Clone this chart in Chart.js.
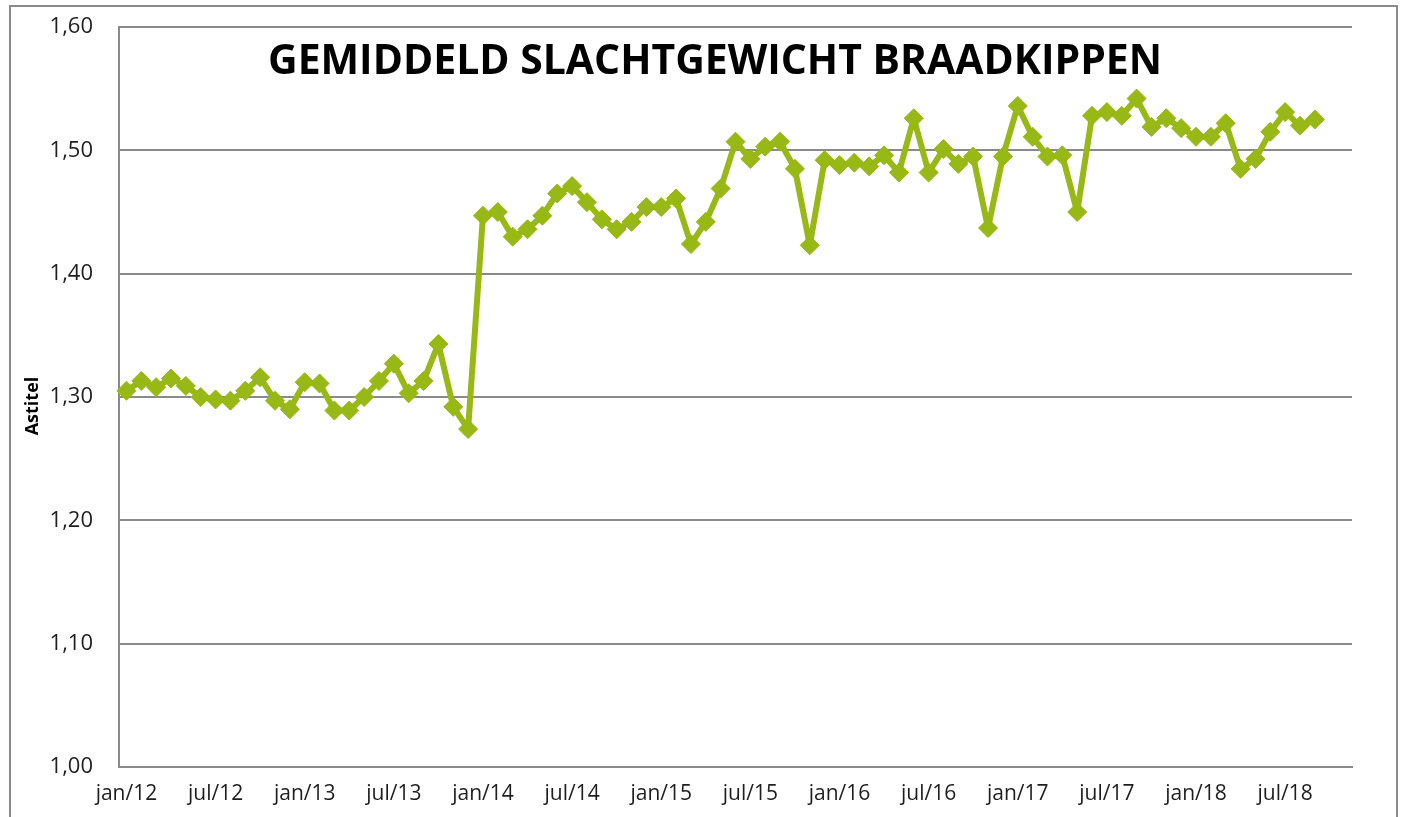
<!DOCTYPE html>
<html>
<head>
<meta charset="utf-8">
<script src="https://cdn.jsdelivr.net/npm/chart.js@4.4.1/dist/chart.umd.min.js"></script>
<style>
  html, body { margin: 0; padding: 0; background: #ffffff; }
  #wrap { width: 1406px; height: 817px; position: relative; }
</style>
</head>
<body>
<div id="wrap"><canvas id="grafiek" width="1406" height="817"></canvas></div>
<script>
// --- Gegevens ---
const TITEL = 'GEMIDDELD SLACHTGEWICHT BRAADKIPPEN';
const AS_TITEL = 'Astitel';
const maanden = ['jan', 'feb', 'mrt', 'apr', 'mei', 'jun', 'jul', 'aug', 'sep', 'okt', 'nov', 'dec'];
const jaren = ['12', '13', '14', '15', '16', '17', '18'];
const aantalCategorieen = 83; // jan/12 t/m nov/18 (as loopt iets door na laatste punt)

// gemiddeld slachtgewicht (kg) per maand, jan/12 t/m sep/18
const gewicht = [
  1.305, 1.313, 1.308, 1.315, 1.309, 1.300, 1.298, 1.297, 1.305, 1.316, 1.297, 1.290,  // 2012
  1.312, 1.311, 1.289, 1.289, 1.300, 1.313, 1.327, 1.303, 1.313, 1.343, 1.292, 1.274,  // 2013
  1.447, 1.450, 1.430, 1.436, 1.447, 1.465, 1.471, 1.458, 1.444, 1.436, 1.442, 1.454,  // 2014
  1.454, 1.461, 1.424, 1.442, 1.469, 1.507, 1.493, 1.503, 1.507, 1.485, 1.423, 1.492,  // 2015
  1.488, 1.490, 1.487, 1.496, 1.482, 1.526, 1.482, 1.501, 1.489, 1.495, 1.437, 1.495,  // 2016
  1.536, 1.511, 1.495, 1.496, 1.450, 1.528, 1.531, 1.528, 1.542, 1.519, 1.526, 1.518,  // 2017
  1.511, 1.511, 1.522, 1.485, 1.493, 1.515, 1.531, 1.520, 1.525                        // 2018
];

const yMin = 1.0;
const yMax = 1.6;
const yStap = 0.1;

// categorie-labels opbouwen uit maanden/jaren
const labels = [];
for (const j of jaren) {
  for (const m of maanden) {
    if (labels.length < aantalCategorieen) labels.push(m + '/' + j);
  }
}

const GROEN = '#97b815';
const GRIJS = '#8a8a8a';
const TEKST = '#1e1e1e';

// --- Plugin voor kader, titel en astitel ---
const extraTekst = {
  id: 'extraTekst',
  beforeDraw(chart) {
    const ctx = chart.ctx;
    ctx.save();
    ctx.fillStyle = '#ffffff';
    ctx.fillRect(0, 0, chart.width, chart.height);
    ctx.strokeStyle = GRIJS;
    ctx.lineWidth = 2;
    ctx.strokeRect(10, 6, 1387, 830);
    ctx.restore();
  },
  afterDraw(chart) {
    const ctx = chart.ctx;
    ctx.save();
    // titel, horizontaal iets samengedrukt zoals Calibri
    ctx.font = 'bold 42px "Open Sans", sans-serif';
    ctx.fillStyle = '#000000';
    ctx.textBaseline = 'alphabetic';
    ctx.textAlign = 'center';
    const breedte = ctx.measureText(TITEL).width;
    const schaal = Math.min(1, 894 / breedte);
    ctx.translate(715, 74);
    ctx.scale(schaal, 1);
    ctx.fillText(TITEL, 0, 0);
    ctx.restore();

    ctx.save();
    ctx.font = 'bold 18px "Open Sans", sans-serif';
    ctx.fillStyle = '#000000';
    ctx.textAlign = 'center';
    ctx.textBaseline = 'middle';
    ctx.translate(33, 406);
    ctx.rotate(-Math.PI / 2);
    ctx.fillText(AS_TITEL, 0, 0);
    ctx.restore();
  }
};

new Chart(document.getElementById('grafiek'), {
  type: 'line',
  data: {
    labels: labels,
    datasets: [{
      label: 'Slachtgewicht',
      data: gewicht,
      borderColor: GROEN,
      backgroundColor: GROEN,
      borderWidth: 6,
      borderJoinStyle: 'round',
      borderCapStyle: 'round',
      pointStyle: 'rectRot',
      pointRadius: 9.5,
      pointBorderWidth: 1,
      pointBackgroundColor: GROEN,
      pointBorderColor: GROEN,
      tension: 0,
      fill: false
    }]
  },
  options: {
    responsive: false,
    animation: false,
    layout: { padding: { left: 0, top: 27, right: 54, bottom: 0 } },
    plugins: {
      legend: { display: false },
      tooltip: { enabled: false },
      title: { display: false }
    },
    scales: {
      x: {
        type: 'category',
        offset: true,
        grid: { display: false, drawTicks: false },
        border: { display: true, color: GRIJS, width: 2 },
        ticks: {
          autoSkip: false,
          maxRotation: 0,
          minRotation: 0,
          padding: 14,
          color: TEKST,
          font: { family: '"Open Sans", sans-serif', size: 21 },
          callback: function (val, i) {
            return i % 6 === 0 ? labels[i] : '';
          }
        },
        afterFit(scale) { scale.height = 50; }
      },
      y: {
        min: yMin,
        max: yMax,
        // onzichtbare tickstreepjes geven de afstand tussen labels en as
        grid: { color: GRIJS, lineWidth: 2, drawTicks: true, tickLength: 24, tickColor: 'rgba(0,0,0,0)' },
        border: { display: true, color: GRIJS, width: 2 },
        ticks: {
          stepSize: yStap,
          padding: 2,
          color: TEKST,
          font: { family: '"Open Sans", sans-serif', size: 22 },
          callback: v => v.toFixed(2).replace('.', ',')
        },
        afterFit(scale) { scale.width = 119; }
      }
    }
  },
  plugins: [extraTekst]
});
</script>
</body>
</html>
